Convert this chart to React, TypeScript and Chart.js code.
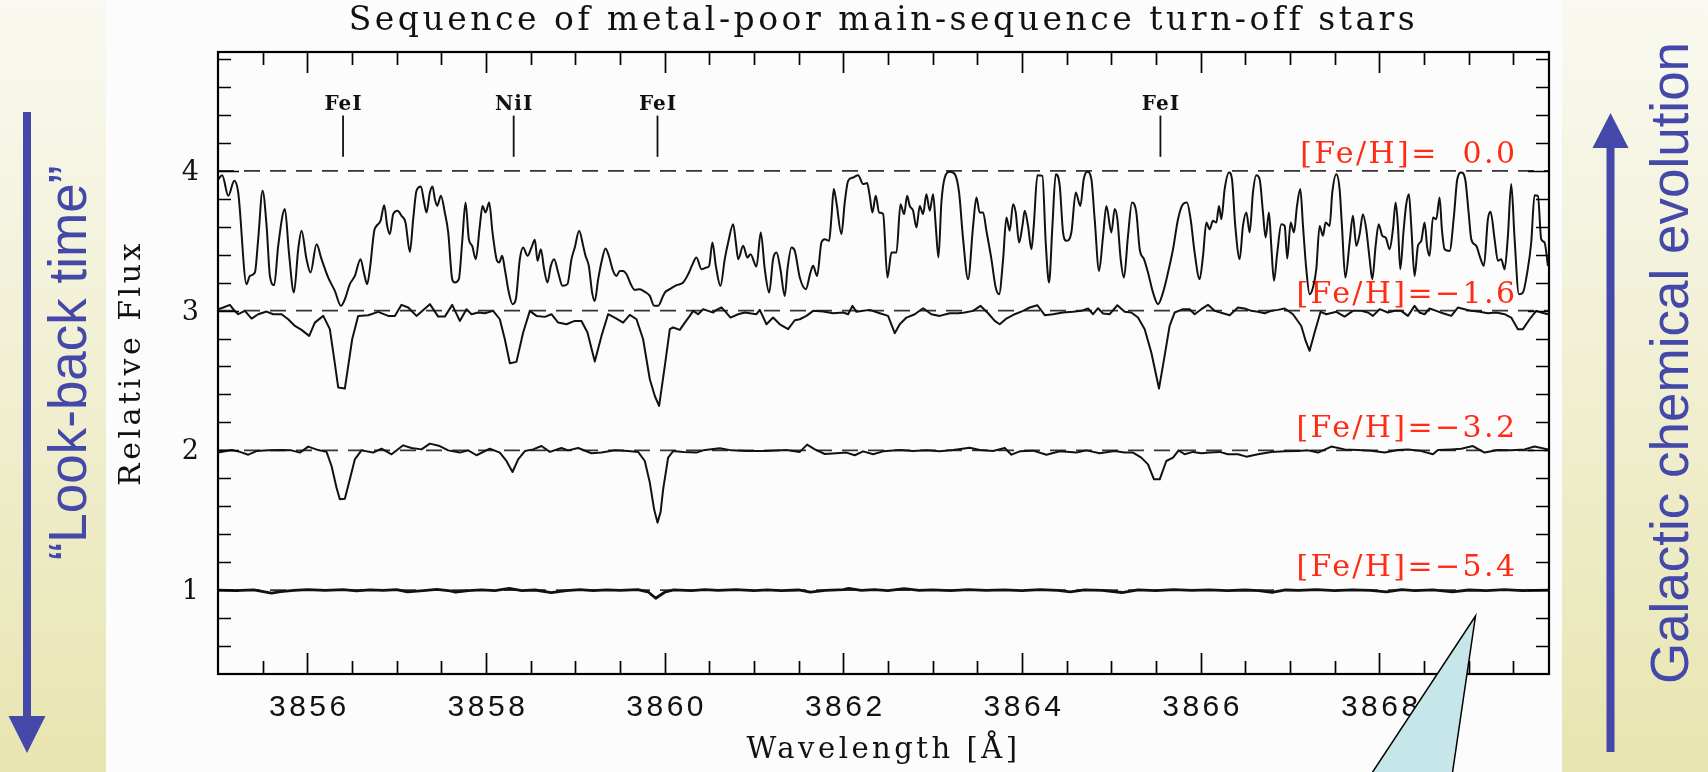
import { useEffect, useRef } from 'react';
import { Chart, registerables } from 'chart.js';

Chart.register(...registerables);

// ---------------- data (wavelength [Å], relative flux) ----------------
const spectrumSolar: [number, number][] = [
  [3855.003,3.940],[3855.047,3.969],[3855.115,3.821],[3855.182,3.928],[3855.226,3.845],[3855.320,3.189],[3855.357,3.248],[3855.413,3.272],[3855.450,3.511],[3855.499,3.857],[3855.544,3.606],[3855.581,3.248],[3855.629,3.182],[3855.674,3.463],[3855.749,3.726],[3855.794,3.415],[3855.850,3.129],[3855.898,3.439],[3855.935,3.571],[3855.991,3.368],[3856.036,3.272],[3856.103,3.475],[3856.159,3.368],[3856.234,3.236],[3856.308,3.141],[3856.376,3.034],[3856.420,3.081],[3856.476,3.189],[3856.532,3.248],[3856.596,3.368],[3856.633,3.272],[3856.670,3.189],[3856.700,3.296],[3856.749,3.571],[3856.775,3.606],[3856.819,3.642],[3856.861,3.754],[3856.894,3.606],[3856.924,3.547],[3856.961,3.690],[3857.010,3.714],[3857.054,3.678],[3857.099,3.630],[3857.148,3.420],[3857.185,3.654],[3857.222,3.857],[3857.271,3.888],[3857.308,3.773],[3857.334,3.702],[3857.372,3.845],[3857.401,3.888],[3857.428,3.797],[3857.454,3.749],[3857.495,3.821],[3857.539,3.702],[3857.577,3.559],[3857.622,3.225],[3857.651,3.201],[3857.696,3.225],[3857.733,3.487],[3857.771,3.773],[3857.808,3.511],[3857.845,3.463],[3857.886,3.368],[3857.931,3.606],[3857.961,3.749],[3857.995,3.702],[3858.036,3.773],[3858.073,3.559],[3858.118,3.368],[3858.148,3.344],[3858.181,3.392],[3858.211,3.296],[3858.256,3.129],[3858.297,3.046],[3858.334,3.081],[3858.379,3.368],[3858.416,3.451],[3858.465,3.392],[3858.509,3.451],[3858.547,3.506],[3858.577,3.356],[3858.614,3.439],[3858.651,3.296],[3858.688,3.201],[3858.726,3.320],[3858.763,3.368],[3858.808,3.272],[3858.856,3.177],[3858.912,3.189],[3858.957,3.368],[3858.994,3.451],[3859.043,3.571],[3859.088,3.463],[3859.114,3.392],[3859.151,3.320],[3859.188,3.129],[3859.218,3.069],[3859.256,3.225],[3859.300,3.368],[3859.338,3.444],[3859.375,3.392],[3859.423,3.284],[3859.461,3.248],[3859.498,3.284],[3859.535,3.284],[3859.573,3.260],[3859.621,3.189],[3859.666,3.148],[3859.722,3.153],[3859.778,3.134],[3859.834,3.105],[3859.882,3.034],[3859.927,3.034],[3859.983,3.105],
  [3860.002,3.129],[3860.058,3.153],[3860.133,3.182],[3860.207,3.201],[3860.263,3.260],[3860.308,3.325],[3860.356,3.380],[3860.412,3.296],[3860.468,3.308],[3860.498,3.320],[3860.535,3.487],[3860.573,3.320],[3860.625,3.177],[3860.673,3.368],[3860.711,3.487],[3860.767,3.618],[3860.797,3.487],[3860.823,3.368],[3860.879,3.463],[3860.927,3.380],[3860.961,3.403],[3861.028,3.315],[3861.076,3.559],[3861.121,3.296],[3861.170,3.129],[3861.214,3.368],[3861.252,3.415],[3861.296,3.296],[3861.345,3.105],[3861.375,3.296],[3861.420,3.451],[3861.457,3.427],[3861.513,3.236],[3861.580,3.153],[3861.632,3.272],[3861.662,3.320],[3861.707,3.248],[3861.755,3.487],[3861.793,3.511],[3861.841,3.499],[3861.867,3.666],[3861.893,3.869],[3861.923,3.773],[3861.979,3.547],[3862.016,3.773],[3862.054,3.928],[3862.110,3.952],[3862.166,3.969],[3862.222,3.905],[3862.266,3.912],[3862.296,3.821],[3862.326,3.702],[3862.363,3.821],[3862.401,3.702],[3862.446,3.690],[3862.494,3.236],[3862.539,3.415],[3862.595,3.415],[3862.640,3.761],[3862.681,3.690],[3862.714,3.821],[3862.744,3.749],[3862.781,3.714],[3862.819,3.594],[3862.856,3.749],[3862.893,3.690],[3862.930,3.833],[3862.968,3.714],[3863.005,3.833],[3863.035,3.606],[3863.065,3.380],[3863.098,3.773],[3863.136,3.952],[3863.192,3.993],[3863.248,3.976],[3863.296,3.845],[3863.341,3.511],[3863.397,3.225],[3863.453,3.606],[3863.490,3.809],[3863.527,3.702],[3863.565,3.702],[3863.602,3.571],[3863.658,3.368],[3863.706,3.165],[3863.744,3.117],[3863.789,3.368],[3863.826,3.666],[3863.863,3.571],[3863.900,3.761],[3863.930,3.702],[3863.968,3.487],[3864.005,3.606],[3864.031,3.714],[3864.068,3.606],[3864.106,3.439],[3864.132,3.606],[3864.173,3.969],[3864.229,3.964],[3864.266,3.487],[3864.303,3.201],[3864.341,3.606],[3864.378,3.976],[3864.423,3.893],[3864.460,3.559],[3864.497,3.499],[3864.553,3.559],[3864.602,3.845],[3864.654,3.749],[3864.691,3.940],[3864.732,3.993],[3864.777,3.940],[3864.814,3.654],[3864.863,3.284],[3864.908,3.535],[3864.945,3.749],
  [3865.001,3.559],[3865.038,3.726],[3865.068,3.654],[3865.105,3.368],[3865.142,3.236],[3865.187,3.535],[3865.232,3.773],[3865.280,3.702],[3865.318,3.439],[3865.366,3.368],[3865.411,3.272],[3865.467,3.129],[3865.523,3.046],[3865.579,3.129],[3865.635,3.272],[3865.691,3.439],[3865.747,3.654],[3865.803,3.761],[3865.847,3.773],[3865.888,3.654],[3865.933,3.415],[3865.989,3.225],[3866.027,3.392],[3866.064,3.630],[3866.101,3.582],[3866.138,3.642],[3866.176,3.630],[3866.206,3.749],[3866.232,3.654],[3866.269,3.869],[3866.318,3.988],[3866.351,3.940],[3866.388,3.606],[3866.437,3.368],[3866.474,3.606],[3866.512,3.702],[3866.549,3.559],[3866.586,3.845],[3866.623,3.969],[3866.661,3.940],[3866.698,3.702],[3866.728,3.523],[3866.765,3.702],[3866.791,3.463],[3866.821,3.213],[3866.858,3.415],[3866.903,3.618],[3866.941,3.606],[3866.970,3.372],[3867.008,3.630],[3867.045,3.559],[3867.079,3.749],[3867.116,3.869],[3867.146,3.606],[3867.183,3.296],[3867.220,3.117],[3867.258,3.165],[3867.295,3.296],[3867.332,3.606],[3867.370,3.535],[3867.399,3.630],[3867.444,3.606],[3867.474,3.845],[3867.519,3.976],[3867.556,3.869],[3867.582,3.606],[3867.620,3.236],[3867.668,3.487],[3867.705,3.678],[3867.743,3.463],[3867.780,3.547],[3867.817,3.690],[3867.854,3.582],[3867.892,3.368],[3867.922,3.225],[3867.959,3.463],[3867.993,3.618],[3868.034,3.535],[3868.071,3.523],[3868.116,3.439],[3868.153,3.582],[3868.183,3.773],[3868.209,3.606],[3868.235,3.296],[3868.272,3.571],[3868.302,3.761],[3868.332,3.833],[3868.358,3.606],[3868.395,3.248],[3868.433,3.463],[3868.470,3.499],[3868.507,3.630],[3868.537,3.451],[3868.563,3.392],[3868.601,3.666],[3868.638,3.654],[3868.675,3.809],[3868.701,3.582],[3868.731,3.439],[3868.787,3.427],[3868.836,3.678],[3868.873,3.940],[3868.918,3.988],[3868.962,3.940],[3869.000,3.702],[3869.030,3.511],[3869.086,3.463],[3869.123,3.392],[3869.171,3.320],[3869.216,3.654],[3869.246,3.707],[3869.291,3.511],[3869.328,3.356],[3869.365,3.368],[3869.403,3.296],[3869.440,3.535],[3869.477,3.905],[3869.515,3.511],[3869.563,3.117],[3869.608,3.129],[3869.656,3.272],[3869.701,3.487],[3869.738,3.826],[3869.776,3.821],[3869.813,3.511],[3869.850,3.487],[3869.888,3.320],
];

const spectrumM16: [number, number][] = [
  [3855.003,3.010],[3855.059,3.022],[3855.133,3.041],[3855.170,3.010],[3855.226,2.974],[3855.301,2.998],[3855.376,2.943],[3855.450,2.974],[3855.544,2.993],[3855.618,2.974],[3855.711,2.974],[3855.786,2.938],[3855.861,2.890],[3855.935,2.862],[3856.021,2.819],[3856.084,2.914],[3856.178,2.962],[3856.252,2.867],[3856.301,2.652],[3856.346,2.449],[3856.420,2.442],[3856.458,2.604],[3856.502,2.795],[3856.569,2.962],[3856.681,2.967],[3856.793,2.991],[3856.905,2.962],[3856.980,2.962],[3857.054,3.041],[3857.129,3.022],[3857.222,2.962],[3857.372,3.046],[3857.465,2.957],[3857.539,2.957],[3857.622,3.041],[3857.707,2.926],[3857.782,3.010],[3857.838,2.974],[3857.912,2.986],[3857.987,2.981],[3858.080,2.998],[3858.155,2.938],[3858.211,2.795],[3858.267,2.623],[3858.341,2.633],[3858.416,2.843],[3858.491,2.998],[3858.565,2.962],[3858.659,2.955],[3858.733,2.974],[3858.808,2.914],[3858.901,2.902],[3858.994,2.926],[3859.069,2.926],[3859.136,2.843],[3859.218,2.635],[3859.293,2.819],[3859.367,2.974],[3859.461,2.943],[3859.535,2.914],[3859.610,2.969],[3859.685,2.938],[3859.759,2.795],[3859.834,2.509],[3859.890,2.389],[3859.938,2.318],
  [3860.002,2.604],[3860.058,2.867],[3860.095,2.879],[3860.170,2.862],[3860.226,2.914],[3860.282,2.962],[3860.319,2.998],[3860.375,2.974],[3860.431,3.010],[3860.487,2.998],[3860.543,2.986],[3860.580,3.005],[3860.636,3.022],[3860.673,2.998],[3860.737,2.950],[3860.823,2.974],[3860.897,2.986],[3860.953,2.981],[3861.028,2.974],[3861.065,3.005],[3861.140,2.902],[3861.214,2.950],[3861.289,2.902],[3861.382,2.867],[3861.457,2.931],[3861.513,2.938],[3861.587,2.962],[3861.662,2.998],[3861.774,2.993],[3861.886,2.981],[3861.998,2.986],[3862.054,2.974],[3862.102,3.034],[3862.147,2.991],[3862.222,2.998],[3862.296,3.005],[3862.408,2.981],[3862.501,2.962],[3862.576,2.838],[3862.632,2.902],[3862.707,2.950],[3862.800,2.974],[3862.893,3.017],[3862.986,2.974],[3863.079,2.962],[3863.192,2.981],[3863.285,2.981],[3863.359,2.986],[3863.453,2.998],[3863.535,3.034],[3863.621,2.981],[3863.695,2.926],[3863.751,2.902],[3863.826,2.943],[3863.919,2.974],[3864.012,2.998],[3864.087,3.022],[3864.173,3.038],[3864.255,2.967],[3864.348,2.974],[3864.460,2.986],[3864.572,2.991],[3864.665,2.998],[3864.740,3.015],[3864.796,2.974],[3864.852,3.017],[3864.908,2.979],
  [3864.982,2.974],[3865.068,3.038],[3865.150,2.991],[3865.224,2.986],[3865.299,2.950],[3865.374,2.867],[3865.448,2.700],[3865.534,2.442],[3865.597,2.676],[3865.653,2.890],[3865.709,2.986],[3865.803,3.010],[3865.877,3.010],[3865.933,2.974],[3866.008,3.010],[3866.082,3.041],[3866.157,2.998],[3866.250,2.981],[3866.325,2.967],[3866.418,3.022],[3866.493,3.015],[3866.567,2.998],[3866.642,2.991],[3866.717,2.981],[3866.791,2.998],[3866.866,3.005],[3866.941,3.015],[3867.034,2.974],[3867.127,2.890],[3867.176,2.783],[3867.220,2.712],[3867.276,2.843],[3867.343,2.991],[3867.407,2.974],[3867.519,2.991],[3867.612,2.957],[3867.705,2.998],[3867.798,2.998],[3867.873,2.986],[3867.929,2.962],[3868.004,3.010],[3868.097,2.986],[3868.172,2.998],[3868.246,2.998],[3868.321,2.962],[3868.395,3.034],[3868.451,2.986],[3868.507,2.974],[3868.563,3.015],[3868.638,2.998],[3868.713,2.981],[3868.806,2.962],[3868.880,3.022],[3868.955,3.010],[3869.030,2.998],[3869.123,2.991],[3869.216,2.981],[3869.310,2.986],[3869.403,2.974],[3869.477,2.950],[3869.552,2.867],[3869.608,2.867],[3869.683,2.938],[3869.757,2.998],[3869.813,2.986],[3869.888,2.974],
];

const spectrumM32: [number, number][] = [
  [3855.003,1.984],[3855.077,1.993],[3855.152,2.002],[3855.245,1.989],[3855.339,1.969],[3855.432,1.995],[3855.562,2.000],[3855.711,2.002],[3855.823,2.000],[3855.917,1.984],[3856.010,2.027],[3856.122,2.002],[3856.215,1.989],[3856.271,1.888],[3856.327,1.733],[3856.364,1.650],[3856.420,1.654],[3856.476,1.793],[3856.532,1.936],[3856.606,2.000],[3856.737,1.984],[3856.831,2.012],[3856.943,1.972],[3857.073,2.036],[3857.166,2.017],[3857.278,2.007],[3857.372,2.048],[3857.483,2.031],[3857.577,2.000],[3857.707,1.984],[3857.801,2.000],[3857.894,1.965],[3858.043,2.012],[3858.155,1.984],[3858.229,1.924],[3858.297,1.845],[3858.360,1.936],[3858.435,1.995],[3858.528,2.007],[3858.621,2.031],[3858.715,1.989],[3858.845,2.017],[3858.920,2.000],[3859.032,2.017],[3859.181,1.979],[3859.293,1.984],[3859.442,2.000],[3859.591,1.995],[3859.703,1.989],[3859.778,1.924],[3859.834,1.769],[3859.882,1.578],[3859.920,1.483],[3859.955,1.560],[3859.983,1.721],
  [3860.039,1.948],[3860.095,1.995],[3860.207,1.989],[3860.356,1.984],[3860.431,2.000],[3860.617,2.015],[3860.748,2.000],[3860.916,1.995],[3861.140,1.995],[3861.364,2.002],[3861.513,1.989],[3861.595,2.041],[3861.681,2.007],[3861.793,1.974],[3861.923,1.979],[3862.035,1.984],[3862.128,1.965],[3862.222,1.993],[3862.334,1.972],[3862.446,1.993],[3862.632,2.002],[3862.781,1.995],[3862.930,2.000],[3863.079,1.993],[3863.229,2.002],[3863.415,2.019],[3863.527,2.002],[3863.677,1.995],[3863.807,2.017],[3863.882,1.969],[3863.975,1.993],[3864.124,1.998],[3864.274,1.969],[3864.423,1.993],[3864.609,1.984],[3864.721,2.000],[3864.870,1.979],
  [3865.038,1.995],[3865.150,1.984],[3865.243,1.984],[3865.336,1.948],[3865.411,1.900],[3865.478,1.793],[3865.542,1.793],[3865.616,1.924],[3865.691,1.948],[3865.754,2.000],[3865.821,1.972],[3865.915,1.989],[3866.008,1.979],[3866.101,1.984],[3866.213,1.989],[3866.306,1.972],[3866.418,1.972],[3866.512,1.955],[3866.642,1.972],[3866.791,1.989],[3866.941,1.993],[3867.090,1.995],[3867.202,2.000],[3867.314,1.984],[3867.463,2.027],[3867.612,2.007],[3867.761,2.002],[3867.910,1.998],[3868.060,1.984],[3868.209,2.002],[3868.321,2.007],[3868.451,1.998],[3868.601,1.972],[3868.657,2.002],[3868.806,2.007],[3868.918,2.012],[3869.048,2.031],[3869.179,1.984],[3869.328,2.002],[3869.477,2.000],[3869.626,2.007],[3869.738,2.027],[3869.888,2.007],
];

const spectrumM54: [number, number][] = [
  [3855.0,1.000],[3855.2,0.996],[3855.4,1.002],[3855.6,0.978],[3855.7,0.990],[3855.85,0.998],[3856.0,1.004],[3856.2,0.998],[3856.4,1.003],[3856.55,0.995],[3856.7,1.002],[3856.85,0.999],[3857.0,1.004],[3857.12,0.988],[3857.3,0.997],[3857.45,1.005],[3857.6,0.995],[3857.66,0.985],[3857.8,0.997],[3857.95,1.002],[3858.1,0.996],[3858.26,1.012],[3858.4,0.997],[3858.55,1.001],[3858.73,0.982],[3858.9,0.997],[3859.05,1.003],[3859.2,0.996],[3859.35,1.002],[3859.5,0.998],[3859.7,1.004],[3859.82,0.985],[3859.9,0.942],[3860.0,0.985],[3860.1,1.002],[3860.3,0.997],[3860.45,1.004],[3860.6,0.999],[3860.8,1.003],[3861.0,0.996],[3861.15,1.002],[3861.3,0.997],[3861.5,1.001],[3861.63,0.985],[3861.8,0.999],[3862.0,1.004],[3862.06,1.012],[3862.2,0.998],[3862.35,1.003],[3862.5,0.996],[3862.68,1.011],[3862.85,0.998],[3863.0,1.002],[3863.2,0.997],[3863.4,1.004],[3863.6,0.998],[3863.8,1.002],[3864.0,0.997],[3864.2,1.003],[3864.4,0.998],[3864.54,0.988],[3864.7,1.002],[3864.9,0.999],[3865.12,0.983],[3865.3,1.002],[3865.5,0.997],[3865.7,1.003],[3865.9,0.998],[3866.1,1.002],[3866.3,0.997],[3866.5,1.001],[3866.65,0.996],[3866.8,0.984],[3866.95,1.001],[3867.1,0.998],[3867.3,1.004],[3867.5,0.997],[3867.7,1.002],[3867.9,0.998],[3868.08,0.988],[3868.25,1.003],[3868.4,0.997],[3868.6,1.002],[3868.82,0.988],[3869.0,1.001],[3869.2,0.997],[3869.4,1.003],[3869.6,0.996],[3869.9,1.000],
];

const continuumLevels = [4, 3, 2, 1];
const metallicityLabels = ['[Fe/H]=  0.0', '[Fe/H]=\u22121.6', '[Fe/H]=\u22123.2', '[Fe/H]=\u22125.4'];
const lineIds = ['FeI', 'NiI', 'FeI', 'FeI'];
const lineWavelengths = [3856.40, 3858.31, 3859.92, 3865.55];
const lineMarkerRange = [4.10, 4.395];
const xTickValues = [3856, 3858, 3860, 3862, 3864, 3866, 3868];
const yTickValues = [1, 2, 3, 4];

const X_MIN = 3855;
const X_MAX = 3869.9;
const Y_MIN = 0.4;
const Y_MAX = 4.85;

const TITLE = 'Sequence of metal-poor main-sequence turn-off stars';
const X_TITLE = 'Wavelength [\u00C5]';
const Y_TITLE = 'Relative Flux';
const LEFT_NOTE = '\u201CLook-back time\u201D';
const RIGHT_NOTE = 'Galactic chemical evolution';

// ---------------- styling ----------------
const W = 1708;
const H = 772;
const BLUE = '#4448a9';
const RED = '#ff2b14';
const SERIF = "'DejaVu Serif', serif";
const SANS = "'Liberation Sans', Arial, sans-serif";

const toXY = (arr: [number, number][]) => arr.map(([x, y]) => ({ x, y }));

const decorPlugin = {
  id: 'decor',
  beforeDraw(chart: any) {
    const ctx: CanvasRenderingContext2D = chart.ctx;
    ctx.save();
    (ctx as any).letterSpacing = '0px';
    ctx.fillStyle = '#fcfcfc';
    ctx.fillRect(0, 0, W, H);
    const g = ctx.createLinearGradient(0, 0, 0, H);
    g.addColorStop(0, '#f9f9f1');
    g.addColorStop(1, '#e8e5b1');
    ctx.fillStyle = g;
    ctx.fillRect(0, 0, 106, H);
    ctx.fillRect(1562, 0, W - 1562, H);

    ctx.fillStyle = BLUE;
    // left arrow (down)
    ctx.fillRect(23, 112, 8, 608);
    ctx.beginPath();
    ctx.moveTo(8.5, 716);
    ctx.lineTo(45.5, 716);
    ctx.lineTo(27, 753);
    ctx.closePath();
    ctx.fill();
    // right arrow (up)
    ctx.fillRect(1606.5, 144, 8, 608);
    ctx.beginPath();
    ctx.moveTo(1592.5, 148);
    ctx.lineTo(1628.5, 148);
    ctx.lineTo(1610.5, 113);
    ctx.closePath();
    ctx.fill();

    ctx.font = `53px ${SANS}`;
    ctx.textAlign = 'center';
    ctx.textBaseline = 'alphabetic';
    const vtext = (t: string, bx: number, cy: number) => {
      ctx.save();
      ctx.translate(bx, cy);
      ctx.rotate(-Math.PI / 2);
      ctx.fillText(t, 0, 0);
      ctx.restore();
    };
    vtext(LEFT_NOTE, 86, 363);
    vtext(RIGHT_NOTE, 1688, 363);
    ctx.restore();
    (ctx as any).letterSpacing = '3.5px';
  },
  beforeDatasetsDraw(chart: any) {
    const ctx: CanvasRenderingContext2D = chart.ctx;
    const { x, y } = chart.scales;
    const lift = [0.055, 0.053, 0.098, 0.098];
    ctx.save();
    (ctx as any).letterSpacing = '2.4px';
    ctx.font = `30px ${SERIF}`;
    ctx.fillStyle = RED;
    ctx.textAlign = 'right';
    ctx.textBaseline = 'alphabetic';
    continuumLevels.forEach((lvl, i) => {
      ctx.fillText(metallicityLabels[i], x.getPixelForValue(3869.52) + 2.4, y.getPixelForValue(lvl + lift[i]));
    });
    ctx.restore();
  },
  afterDraw(chart: any) {
    const ctx: CanvasRenderingContext2D = chart.ctx;
    const { left, right, top, bottom } = chart.chartArea;
    const { x, y } = chart.scales;
    ctx.save();
    (ctx as any).letterSpacing = '0px';
    // tick marks on all four sides
    ctx.strokeStyle = '#000';
    ctx.lineWidth = 1.7;
    ctx.beginPath();
    for (let i = 7711; i <= 7739; i++) {
      const v = i / 2;
      const px = Math.round(x.getPixelForValue(v)) + 0.5;
      const len = v % 2 === 0 ? 21 : 13;
      ctx.moveTo(px, bottom);
      ctx.lineTo(px, bottom - len);
      ctx.moveTo(px, top);
      ctx.lineTo(px, top + len);
    }
    for (let i = 3; i <= 24; i++) {
      const py = Math.round(y.getPixelForValue(i / 5)) + 0.5;
      const len = i % 5 === 0 ? 21 : 13;
      ctx.moveTo(left, py);
      ctx.lineTo(left + len, py);
      ctx.moveTo(right, py);
      ctx.lineTo(right - len, py);
    }
    ctx.stroke();
    // frame
    ctx.lineWidth = 2.2;
    ctx.strokeRect(left, top, right - left, bottom - top);

    // line identifications
    (ctx as any).letterSpacing = '1px';
    ctx.font = `bold 20px ${SERIF}`;
    ctx.fillStyle = '#111';
    ctx.textAlign = 'center';
    ctx.textBaseline = 'alphabetic';
    lineWavelengths.forEach((w, i) => {
      ctx.fillText(lineIds[i], x.getPixelForValue(w) + 0.5, y.getPixelForValue(4.437));
    });

    // callout pointer
    ctx.beginPath();
    ctx.moveTo(1475.5, 616);
    ctx.lineTo(1452, 776);
    ctx.lineTo(1370, 776);
    ctx.closePath();
    ctx.fillStyle = '#c6e6e9';
    ctx.fill();
    ctx.lineWidth = 1.5;
    ctx.strokeStyle = '#000';
    ctx.stroke();
    ctx.restore();
  },
};

export default function App() {
  const ref = useRef<HTMLCanvasElement>(null);

  useEffect(() => {
    const canvas = ref.current;
    if (!canvas) return;
    const specStyle = { borderColor: '#111', pointRadius: 0, tension: 0, borderJoinStyle: 'round' as const };
    const datasets: any[] = [
      { ...specStyle, data: toXY(spectrumSolar), borderWidth: 2, cubicInterpolationMode: 'monotone' },
      { ...specStyle, data: toXY(spectrumM16), borderWidth: 2 },
      { ...specStyle, data: toXY(spectrumM32), borderWidth: 2 },
      { ...specStyle, data: toXY(spectrumM54), borderWidth: 2.8 },
      ...lineWavelengths.map((w) => ({
        data: [{ x: w, y: lineMarkerRange[0] }, { x: w, y: lineMarkerRange[1] }],
        borderColor: '#111', borderWidth: 1.8, pointRadius: 0,
      })),
      ...continuumLevels.map((lvl) => ({
        data: [{ x: X_MIN, y: lvl }, { x: X_MAX, y: lvl }],
        borderColor: '#333', borderWidth: 1.7, borderDash: [16, 10], pointRadius: 0,
      })),
    ];

    const chart = new Chart(canvas, {
      type: 'line',
      data: { datasets },
      plugins: [decorPlugin],
      options: {
        responsive: false,
        animation: false,
        devicePixelRatio: 1,
        events: [],
        layout: { padding: { left: 106, right: 159, top: 0, bottom: 0 } },
        plugins: {
          legend: { display: false },
          tooltip: { enabled: false },
          title: {
            display: true,
            text: TITLE,
            fullSize: false,
            color: '#111',
            font: { family: SERIF, size: 33, weight: 'normal' },
            padding: { top: 2, bottom: 10.4 },
          },
        },
        scales: {
          x: {
            type: 'linear',
            min: X_MIN,
            max: X_MAX,
            grid: { display: false, drawTicks: false },
            border: { display: false },
            afterBuildTicks: (s: any) => { s.ticks = xTickValues.map((v) => ({ value: v })); },
            afterFit: (s: any) => { s.height = 98; },
            ticks: {
              font: { family: SANS, size: 30 },
              color: '#111',
              padding: 15.6,
              labelOffset: 2,
              maxRotation: 0,
              autoSkip: false,
              callback: (v: any) => String(v),
            },
            title: {
              display: true,
              text: X_TITLE,
              color: '#111',
              font: { family: SERIF, size: 29 },
              padding: { top: 0, bottom: 4.6 },
            },
          },
          y: {
            type: 'linear',
            min: Y_MIN,
            max: Y_MAX,
            grid: { display: false, drawTicks: false },
            border: { display: false },
            afterBuildTicks: (s: any) => { s.ticks = yTickValues.map((v) => ({ value: v })); },
            afterFit: (s: any) => { s.width = 112; },
            ticks: {
              font: { family: SERIF, size: 27 },
              color: '#111',
              padding: 15.5,
              labelOffset: 2,
              callback: (v: any) => String(v),
            },
            title: {
              display: true,
              text: Y_TITLE,
              color: '#111',
              font: { family: SERIF, size: 30 },
              padding: { top: 8.6, bottom: 0 },
            },
          },
        },
      } as any,
    });
    return () => chart.destroy();
  }, []);

  return (
    <div style={{ position: 'fixed', left: 0, top: 0, width: W, height: H }}>
      <canvas ref={ref} width={W} height={H} style={{ display: 'block', width: W, height: H }} />
    </div>
  );
}
